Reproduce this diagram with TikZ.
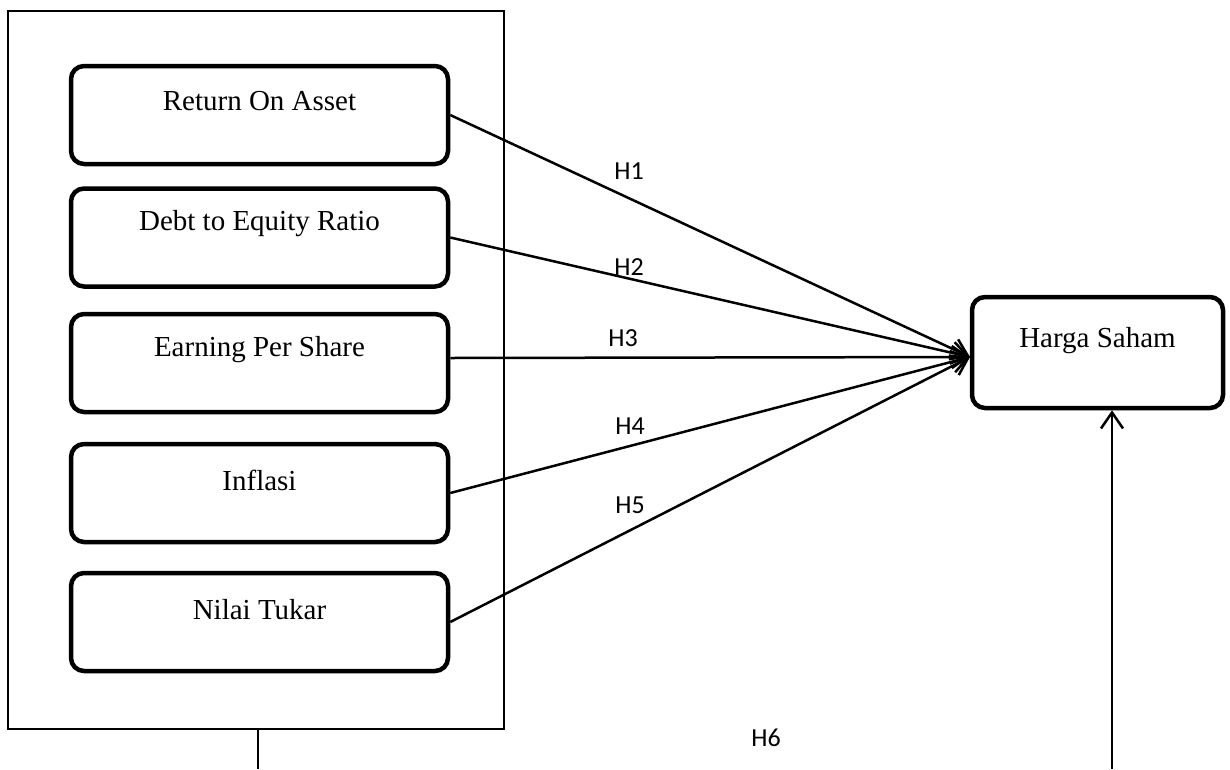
\documentclass[tikz,border=0pt]{standalone}
\usepackage{fontspec}
\setmainfont{Liberation Serif}
\newfontfamily\hfont{Carlito}
\usetikzlibrary{arrows.meta,positioning}
\begin{document}
\begin{tikzpicture}[x=1pt,y=-1pt,
  varbox/.style={draw, line width=4.5pt, rounded corners=13pt, minimum width=377pt, minimum height=98pt, inner sep=0pt},
  vartext/.style={font=\fontsize{29}{34}\selectfont, inner sep=0pt},
  hlabel/.style={font=\hfont\fontsize{26}{30}\selectfont, inner sep=0pt},
  conn/.style={line width=2.5pt},
  arr/.style={conn, -{Straight Barb[length=16pt,width=22pt,line width=2.5pt]}}]
\useasboundingbox (0,0) rectangle (1230,769);
% outer frame
\node[draw, line width=2.5pt, minimum width=496pt, minimum height=718pt, inner sep=0pt] (grp) at (256,370) {};
% variable boxes
\node[varbox] (b1) at (259.5,115) {};
\node[varbox] (b2) at (259.5,237.5) {};
\node[varbox] (b3) at (259.5,363) {};
\node[varbox] (b4) at (259.5,493) {};
\node[varbox] (b5) at (259.5,622) {};
\node[vartext] (t1) at (259.5,101) {Return On Asset};
\node[vartext] (t2) at (259.5,224) {Debt to Equity Ratio};
\node[vartext] (t3) at (259.5,350) {Earning Per Share};
\node[vartext] (t4) at (259.5,480) {Inflasi};
\node[vartext] (t5) at (259.5,610) {Nilai Tukar};
% dependent
\node[draw, line width=4.5pt, rounded corners=13pt, minimum width=251pt, minimum height=111pt, inner sep=0pt] (hs) at (1097.5,352.5) {};
\node[vartext] (ths) at (1097.5,341) {Harga Saham};
\coordinate (tgt) at (970,357);
% arrows
\draw[arr] (b1.east) -- (tgt);
\draw[arr] (b2.east) -- (tgt);
\draw[arr] (b3.east |- 0,358) -- (tgt);
\draw[arr] (b4.east) -- (tgt);
\draw[arr] (b5.east) -- (tgt);
% labels
\node[hlabel] (h1) at (629,171) {H1};
\node[hlabel] (h2) at (629,267) {H2};
\node[hlabel] (h3) at (623,338) {H3};
\node[hlabel] (h4) at (630,426) {H4};
\node[hlabel] (h5) at (630,505) {H5};
\node[hlabel] (h6) at (766,738) {H6};
% bottom connectors
\coordinate (lb) at (258,769);
\coordinate (rb) at (1112,769);
\draw[line width=1.8pt] (grp.south -| lb) -- (lb);
\draw[arr] (rb) -- (hs.south -| rb);
\end{tikzpicture}
\end{document}
